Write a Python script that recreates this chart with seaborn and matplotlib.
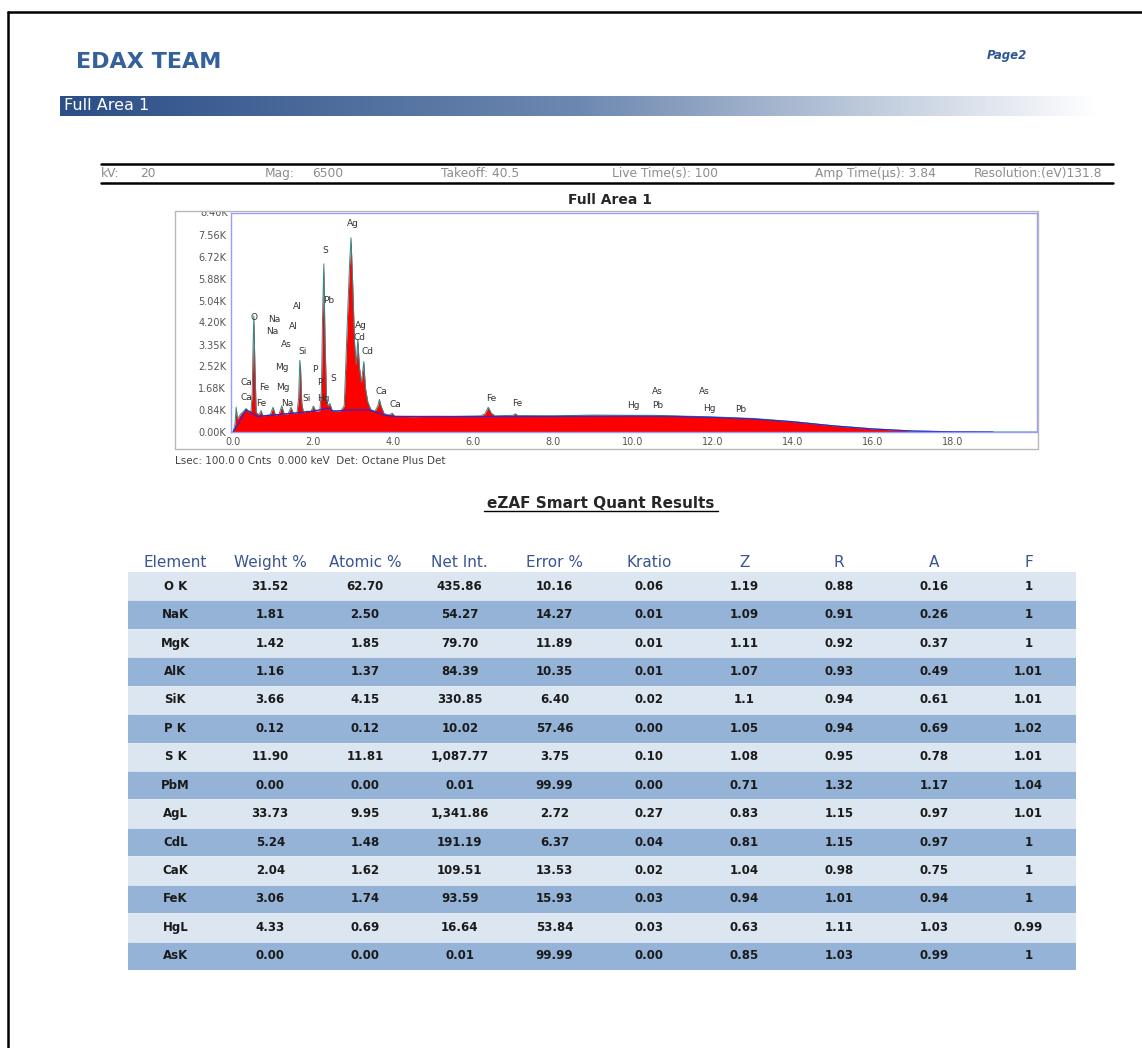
import matplotlib
matplotlib.use('Agg')
import matplotlib.pyplot as plt
import seaborn as sns
import numpy as np
import pandas as pd
from matplotlib.colors import ListedColormap, LinearSegmentedColormap
from matplotlib.lines import Line2D
from matplotlib.patches import Rectangle

# Spectrum (keV, counts)
energy_kev = [0.00, 0.05, 0.08, 0.11, 0.20, 0.28, 0.33, 0.38, 0.45, 0.48, 0.50,
              0.52, 0.55, 0.58, 0.65, 0.70, 0.75, 0.85, 0.93, 1.00, 1.06, 1.15,
              1.22, 1.28, 1.38, 1.45, 1.51, 1.60, 1.64, 1.67, 1.69, 1.72, 1.76,
              1.85, 1.95, 2.01, 2.07, 2.17, 2.21, 2.24, 2.27, 2.30, 2.34, 2.38,
              2.42, 2.48, 2.60, 2.70, 2.78, 2.82, 2.86, 2.91, 2.95, 2.99, 3.04,
              3.08, 3.12, 3.16, 3.21, 3.27, 3.31, 3.37, 3.45, 3.55, 3.62, 3.66,
              3.70, 3.78, 3.90, 3.98, 4.05, 4.50, 5.00, 5.50, 6.20, 6.30, 6.38,
              6.46, 6.55, 7.00, 7.06, 7.12, 8.00, 9.00, 10.00, 10.50, 11.00,
              12.00, 13.00, 14.00, 15.00, 16.00, 17.00, 18.00, 19.00, 20.20]
counts = [0, 300, 950, 500, 700, 820, 900, 780, 800, 1500, 3200,
          4450, 2400, 750, 650, 820, 620, 640, 660, 950, 660, 680,
          1000, 690, 700, 950, 720, 740, 1300, 2750, 2400, 1100, 760,
          800, 780, 1000, 800, 820, 1600, 4500, 6450, 3600, 1200, 1000,
          1100, 820, 800, 820, 1000, 2600, 4300, 6300, 7450, 5800, 3400,
          2600, 3550, 2500, 1900, 2700, 1700, 1150, 850, 800, 1000, 1250,
          1000, 700, 650, 720, 600, 590, 600, 600, 620, 700, 950,
          720, 620, 640, 700, 630, 620, 650, 640, 640, 620,
          580, 520, 400, 240, 120, 40, 8, 0, 0]

# Fitted background (blue line)
bg_kev = [0.0, 0.10, 0.33, 0.45, 0.60, 1.0, 1.5, 2.0, 2.4, 2.5, 3.0, 3.4, 3.8,
          4.0, 6.0, 8.0, 10.0, 11.0, 12.0, 13.0, 14.0, 15.0, 16.0, 17.0, 18.0, 19.0]
bg_counts = [0, 250, 860, 750, 600, 650, 720, 800, 920, 800, 850, 850, 650,
             600, 590, 600, 610, 600, 560, 500, 390, 235, 115, 35, 5, 0]

# Peak labels (text, keV, counts)
peak_text = ['Ag', 'S', 'Pb', 'Al', 'O', 'Na', 'Na', 'Al', 'As', 'Ag', 'Cd', 'Cd',
             'Si', 'Mg', 'P', 'S', 'P', 'Ca', 'Fe', 'Mg', 'Ca', 'Fe', 'Na', 'Si',
             'Hg', 'Ca', 'Ca', 'Fe', 'Fe', 'Hg', 'Pb', 'As', 'As', 'Hg', 'Pb']
peak_kev = [3.00, 2.30, 2.40, 1.60, 0.52, 1.02, 0.98, 1.50, 1.32, 3.20, 3.17, 3.35,
            1.75, 1.22, 2.05, 2.50, 2.18, 0.33, 0.78, 1.25, 0.33, 0.70, 1.35, 1.85,
            2.25, 3.70, 4.05, 6.45, 7.10, 10.02, 10.62, 10.60, 11.78, 11.90, 12.68]
peak_cnt = [7990, 6950, 5030, 4800, 4380, 4300, 3840, 4030, 3340, 4070, 3610, 3070,
            3070, 2460, 2380, 2070, 1880, 1880, 1690, 1690, 1340, 1110, 1110, 1300,
            1300, 1570, 1040, 1300, 1110, 1000, 1000, 1570, 1540, 920, 880]

x_ticks = [0, 2, 4, 6, 8, 10, 12, 14, 16, 18]
y_ticks = [0, 840, 1680, 2520, 3350, 4200, 5040, 5880, 6720, 7560]
y_tick_labels = ['0.00K', '0.84K', '1.68K', '2.52K', '3.35K', '4.20K', '5.04K',
                 '5.88K', '6.72K', '7.56K']

# Quant table
headers = ['Element', 'Weight %', 'Atomic %', 'Net Int.', 'Error %', 'Kratio',
           'Z', 'R', 'A', 'F']
elements = ['O K', 'NaK', 'MgK', 'AlK', 'SiK', 'P K', 'S K', 'PbM', 'AgL', 'CdL',
            'CaK', 'FeK', 'HgL', 'AsK']
weight = ['31.52', '1.81', '1.42', '1.16', '3.66', '0.12', '11.90', '0.00', '33.73',
          '5.24', '2.04', '3.06', '4.33', '0.00']
atomic = ['62.70', '2.50', '1.85', '1.37', '4.15', '0.12', '11.81', '0.00', '9.95',
          '1.48', '1.62', '1.74', '0.69', '0.00']
net_int = ['435.86', '54.27', '79.70', '84.39', '330.85', '10.02', '1,087.77', '0.01',
           '1,341.86', '191.19', '109.51', '93.59', '16.64', '0.01']
error = ['10.16', '14.27', '11.89', '10.35', '6.40', '57.46', '3.75', '99.99', '2.72',
         '6.37', '13.53', '15.93', '53.84', '99.99']
kratio = ['0.06', '0.01', '0.01', '0.01', '0.02', '0.00', '0.10', '0.00', '0.27',
          '0.04', '0.02', '0.03', '0.03', '0.00']
z_corr = ['1.19', '1.09', '1.11', '1.07', '1.1', '1.05', '1.08', '0.71', '0.83',
          '0.81', '1.04', '0.94', '0.63', '0.85']
r_corr = ['0.88', '0.91', '0.92', '0.93', '0.94', '0.94', '0.95', '1.32', '1.15',
          '1.15', '0.98', '1.01', '1.11', '1.03']
a_corr = ['0.16', '0.26', '0.37', '0.49', '0.61', '0.69', '0.78', '1.17', '0.97',
          '0.97', '0.75', '0.94', '1.03', '0.99']
f_corr = ['1', '1', '1', '1.01', '1.01', '1.02', '1.01', '1.04', '1.01', '1', '1',
          '1', '0.99', '1']

info_items = [('kV:', 101), ('20', 140), ('Mag:', 265), ('6500', 312),
              ('Takeoff: 40.5', 441), ('Live Time(s): 100', 612),
              ('Amp Time(µs): 3.84', 815), ('Resolution:(eV)131.8', 974)]

sns.set_style('white')
plt.rcParams['font.family'] = ['DejaVu Sans']

W, H = 1142, 1048
fig = plt.figure(figsize=(W / 100, H / 100), dpi=100)


def fx(px):
    return px / W


def fy(py):
    return 1 - py / H


# page border
fig.add_artist(Line2D([fx(8), fx(8)], [fy(12), 0], color='black', lw=1.8))
fig.add_artist(Line2D([fx(8), 1], [fy(12), fy(12)], color='black', lw=1.8))

# header
fig.text(fx(76), fy(62), 'EDAX TEAM', fontsize=16, fontweight='bold',
         color='#34609c', ha='left', va='center')
fig.text(fx(987), fy(55), 'Page2', fontsize=8.5, fontweight='bold',
         fontstyle='italic', color='#2f5597', ha='left', va='center')

# gradient bar
bar_ax = fig.add_axes([fx(60), fy(116), fx(1100) - fx(60), 20 / H])
grad_cmap = LinearSegmentedColormap.from_list('bar', ['#2b4e87', '#6d88b0', '#ffffff'])
bar_ax.imshow(np.linspace(0, 1, 256)[None, :], aspect='auto', cmap=grad_cmap)
bar_ax.set_axis_off()
fig.text(fx(64), fy(105), 'Full Area 1', fontsize=11.5, color='white',
         ha='left', va='center')

# info bar
for yy in (164, 183):
    fig.add_artist(Line2D([fx(101), fx(1113)], [fy(yy), fy(yy)], color='black', lw=1.8))
for txt, xx in info_items:
    fig.text(fx(xx), fy(173.5), txt, fontsize=8.8, color='#8c8c8c', ha='left', va='center')

# spectrum
fig.text(fx(610), fy(200), 'Full Area 1', fontsize=10, fontweight='bold',
         ha='center', va='center')
fig.add_artist(Rectangle((fx(175), fy(449)), fx(1038) - fx(175), (449 - 211) / H,
                         fill=False, edgecolor='#b8b8b8', lw=1))
ax = fig.add_axes([fx(231), fy(432), fx(1037) - fx(231), (432 - 213) / H])
ax.fill_between(energy_kev, counts, color='#ff0000', lw=0)
sns.lineplot(x=energy_kev, y=counts, color='#2e8b8b', lw=0.7, ax=ax)
sns.lineplot(x=bg_kev, y=bg_counts, color='#2a2ad0', lw=0.9, ax=ax)
ax.set_xlim(-0.05, 20.1)
ax.set_ylim(0, 8400)
ax.set_xticks(x_ticks)
ax.set_xticklabels([f'{v:.1f}' for v in x_ticks])
ax.set_yticks(y_ticks)
ax.set_yticklabels(y_tick_labels)
ax.tick_params(axis='both', labelsize=7, labelcolor='#555555', color='#9a9aff',
               length=2, width=0.6, pad=1.5)
for sp in ax.spines.values():
    sp.set_color('#9a9aff')
    sp.set_linewidth(1)
ax.set_xlabel('')
ax.set_ylabel('')
for t, xk, yc in zip(peak_text, peak_kev, peak_cnt):
    ax.text(xk, yc, t, fontsize=6.5, color='#333333', ha='center', va='center')
# top tick label, cut by the frame as in the report
top_lbl = fig.text(fx(228), fy(213), '8.40K', fontsize=7, color='#555555',
                   ha='right', va='center')
top_lbl.set_clip_path(Rectangle((fx(180), fy(300)), fx(60), (300 - 212) / H,
                                transform=fig.transFigure))
fig.text(fx(175), fy(461), 'Lsec: 100.0 0 Cnts  0.000 keV  Det: Octane Plus Det',
         fontsize=7.5, color='#444444', ha='left', va='center')

# results title
fig.text(fx(601), fy(503), 'eZAF Smart Quant Results', fontsize=11,
         fontweight='bold', ha='center', va='center')
fig.add_artist(Line2D([fx(484), fx(718)], [fy(511), fy(511)], color='black', lw=1))

# table as a heatmap with alternating row bands
table = pd.DataFrame({'Element': elements, 'Weight %': weight, 'Atomic %': atomic,
                      'Net Int.': net_int, 'Error %': error, 'Kratio': kratio,
                      'Z': z_corr, 'R': r_corr, 'A': a_corr, 'F': f_corr})
band = np.tile((np.arange(len(elements)) % 2)[:, None], (1, len(headers)))
tab_ax = fig.add_axes([fx(128), fy(970), fx(1076) - fx(128), (970 - 572) / H])
sns.heatmap(band, annot=table[headers].values, fmt='',
            cmap=ListedColormap(['#dce6f1', '#95b3d7']), cbar=False,
            xticklabels=headers, yticklabels=False, linewidths=0,
            annot_kws={'fontsize': 8.5, 'fontweight': 'bold', 'color': '#1a1a1a'},
            ax=tab_ax)
for k in range(1, len(elements)):
    tab_ax.axhline(k, color='#e4ebf4', lw=0.6)
tab_ax.xaxis.tick_top()
tab_ax.tick_params(axis='x', length=0, pad=1.5, labelsize=11, labelcolor='#3a5590')
tab_ax.set_xlabel('')
tab_ax.set_ylabel('')

fig.savefig('out.png', dpi=100)
